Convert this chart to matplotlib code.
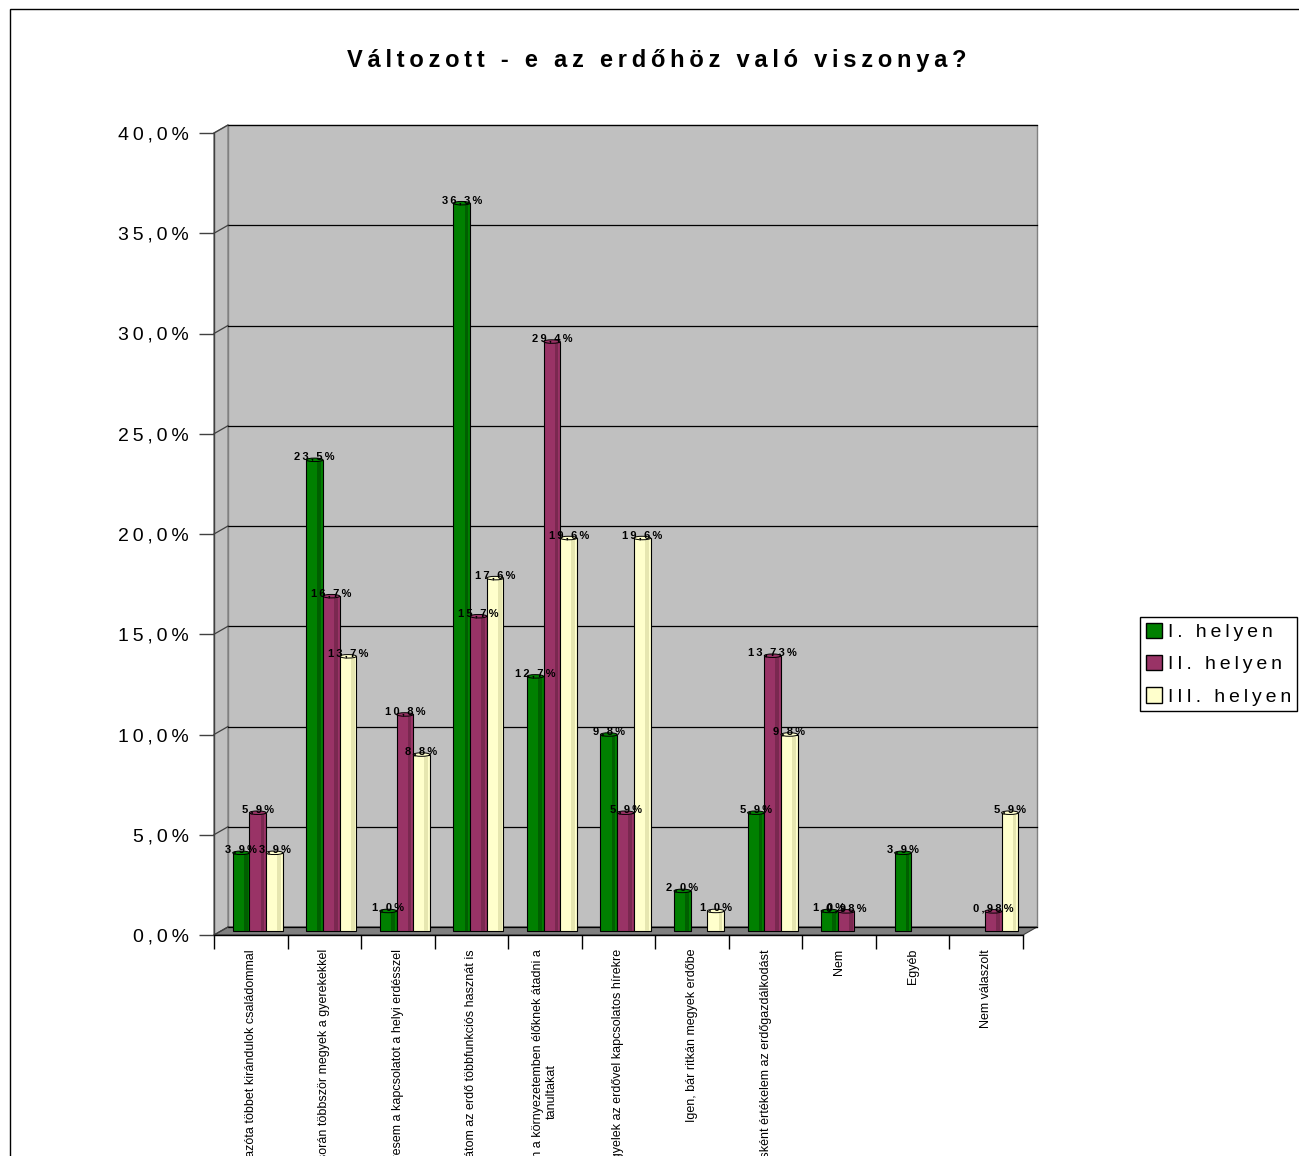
import numpy as np
import matplotlib
matplotlib.use('Agg')
import matplotlib.pyplot as plt
from matplotlib.patches import Rectangle, Polygon, Ellipse, Patch

plt.rcParams['font.family'] = ['Liberation Sans', 'DejaVu Sans']

# --- data ---
categories = [
    'Igen, azóta többet kirándulok családommal',
    'Igen, a tanév során többször megyek a gyerekekkel',
    'Igen, keresem a kapcsolatot a helyi erdésszel',
    'Igen, látom az erdő többfunkciós hasznát is',
    'Igen, próbálom a környezetemben élőknek átadni a\ntanultakat',
    'Igen, jobban figyelek az erdővel kapcsolatos hírekre',
    'Igen, bár ritkán megyek erdőbe',
    'Igen, másként értékelem az erdőgazdálkodást',
    'Nem',
    'Egyéb',
    'Nem válaszolt',
]
helyen_1 = [3.9, 23.5, 1.0, 36.3, 12.7, 9.8, 2.0, 5.9, 1.0, 3.9, np.nan]
helyen_2 = [5.9, 16.7, 10.8, 15.7, 29.4, 5.9, np.nan, 13.73, 0.98, np.nan, 0.98]
helyen_3 = [3.9, 13.7, 8.8, 17.6, 19.6, 19.6, 1.0, 9.8, np.nan, np.nan, 5.9]
labels_1 = ['3,9%', '23,5%', '1,0%', '36,3%', '12,7%', '9,8%', '2,0%', '5,9%', '1,0%', '3,9%', '']
labels_2 = ['5,9%', '16,7%', '10,8%', '15,7%', '29,4%', '5,9%', '', '13,73%', '0,98%', '', '0,98%']
labels_3 = ['3,9%', '13,7%', '8,8%', '17,6%', '19,6%', '19,6%', '1,0%', '9,8%', '', '', '5,9%']
series_names = ['I. helyen', 'II. helyen', 'III. helyen']
colors = ['#008000', '#993366', '#FFFFCC']
shades = ['#005F00', '#7A2850', '#E6E6B0']
yticks = np.arange(0, 41, 5)
ytick_labels = ['%.1f%%' % v for v in yticks]


def sp(s):
    # Excel-like letter spacing
    return '\u2009'.join(s)


W, H = 1299, 1156
fig = plt.figure(figsize=(W / 100, H / 100), dpi=100)

x0, x1, yb, yt = 214, 1023, 935, 133
ax = fig.add_axes([x0 / W, 1 - yb / H, (x1 - x0) / W, (yb - yt) / H])
ax.set_xlim(-0.5, 10.5)
ax.set_ylim(0, 40)
ax.patch.set_visible(False)
for s in ax.spines.values():
    s.set_visible(False)

# depth offsets in data units (14 px right, 8 px up)
ppx = (x1 - x0) / 11.0
ppy = (yb - yt) / 40.0
dx = 14 / ppx
dy = 8 / ppy

# walls and floor
ax.add_patch(Rectangle((-0.5 + dx, dy), 11, 40, facecolor='#C0C0C0',
                       edgecolor='#808080', lw=1, zorder=0, clip_on=False))
ax.add_patch(Polygon([(-0.5, 0), (-0.5 + dx, dy), (-0.5 + dx, 40 + dy), (-0.5, 40)],
                     facecolor='#C0C0C0', edgecolor='#808080', lw=1, zorder=0, clip_on=False))
ax.add_patch(Polygon([(-0.5, 0), (10.5, 0), (10.5 + dx, dy), (-0.5 + dx, dy)],
                     facecolor='#808080', edgecolor='#404040', lw=0.8, zorder=1, clip_on=False))

for v in yticks:
    ax.plot([-0.5 + dx, 10.5 + dx], [v + dy, v + dy], color='black', lw=0.9, zorder=1, clip_on=False)
    ax.plot([-0.5, -0.5 + dx], [v, v + dy], color='#404040', lw=0.9, zorder=1, clip_on=False)

ax.plot([-0.5, -0.5], [0, 40], color='#404040', lw=1, zorder=2, clip_on=False)
ax.plot([-0.5, 10.5], [0, 0], color='black', lw=1, zorder=2, clip_on=False)

# bars (cylinders at mid depth)
x = np.arange(len(categories))
w = 0.227
series = [helyen_1, helyen_2, helyen_3]
labels = [labels_1, labels_2, labels_3]
for i, (vals, labs) in enumerate(zip(series, labels)):
    vals = np.array(vals, dtype=float)
    xs = x + (i - 1) * w + dx / 2
    ax.bar(xs, vals, w, bottom=dy / 2, color=colors[i], edgecolor='black',
           lw=0.8, zorder=3, clip_on=False)
    ax.bar(xs + w * 0.28, vals, w * 0.22, bottom=dy / 2, color=shades[i],
           lw=0, zorder=3.1, clip_on=False)
    for xi, v, lab in zip(xs, vals, labs):
        if np.isnan(v):
            continue
        ax.add_patch(Ellipse((xi, v + dy / 2), w, 3.5 / ppy, facecolor=colors[i],
                             edgecolor='black', lw=0.7, zorder=3.2, clip_on=False))
        ax.text(xi, v + dy / 2 + 3 / ppy, sp(lab), ha='center', va='center',
                fontsize=8, fontweight='bold', zorder=5)

# axes ticks
ax.set_yticks(yticks)
ax.set_yticklabels([sp(t.replace('.', ',')) for t in ytick_labels])
ax.tick_params(axis='y', length=11, width=1, color='#404040', pad=7, labelsize=14)

ax.set_xticks(x)
ax.set_xticklabels(categories, rotation=90, fontsize=9, va='top', ha='center')
for lbl in ax.get_xticklabels():
    lbl.set_multialignment('center')
ax.set_xticks(np.arange(-0.5, 11, 1), minor=True)
ax.tick_params(axis='x', which='major', length=0, pad=10)
ax.tick_params(axis='x', which='minor', length=10, width=1, color='black')

fig.text(657 / W, 1 - 60 / H, sp('Változott - e az erdőhöz való viszonya?'),
         ha='center', va='center', fontsize=17, fontweight='bold')

handles = [Patch(facecolor=c, edgecolor='black') for c in colors]
leg = fig.legend(handles, [sp(n) for n in series_names], loc='upper left',
                 bbox_to_anchor=(1140 / W, 1 - 617 / H), fontsize=14, frameon=True,
                 fancybox=False, edgecolor='black', framealpha=1, handlelength=0.85,
                 handleheight=0.85, borderpad=0.3, labelspacing=0.7, handletextpad=0.3,
                 borderaxespad=0)
leg.get_frame().set_linewidth(1)

# outer chart border (runs off the right and bottom edges)
fig.add_artist(Rectangle((10 / W, -0.1), 1.5, 1 - 9 / H + 0.1, transform=fig.transFigure,
                         fill=False, edgecolor='black', lw=1))

fig.savefig('out.png', dpi=100)
